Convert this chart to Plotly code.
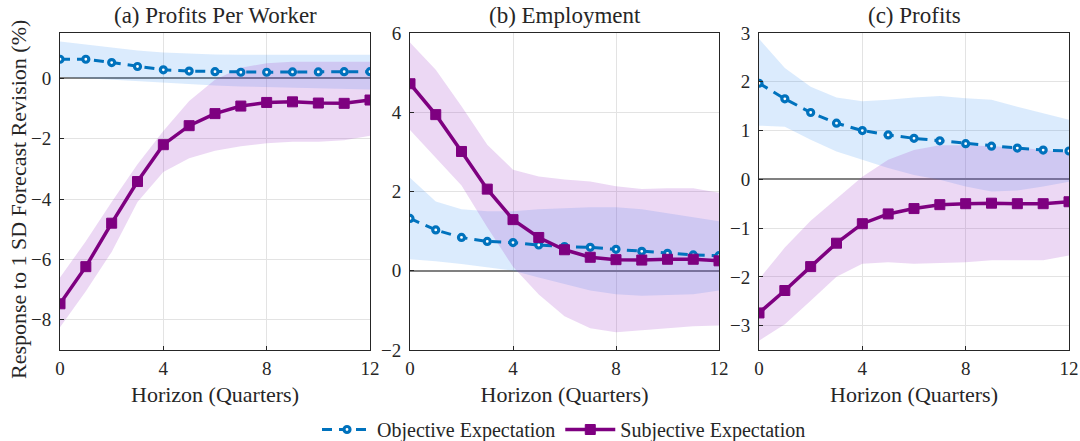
import plotly.graph_objects as go

horizon = list(range(13))

# Panel (a) Profits Per Worker
a_obj = [0.63, 0.63, 0.52, 0.39, 0.28, 0.24, 0.22, 0.20, 0.20, 0.21, 0.21, 0.22, 0.22]
a_obj_hi = [1.22, 1.12, 1.02, 0.92, 0.85, 0.81, 0.79, 0.78, 0.78, 0.78, 0.78, 0.78, 0.78]
a_obj_lo = [0.05, 0.0, -0.05, -0.10, -0.15, -0.20, -0.24, -0.27, -0.29, -0.31, -0.33, -0.35, -0.37]
a_sub = [-7.47, -6.24, -4.80, -3.42, -2.20, -1.57, -1.17, -0.92, -0.80, -0.78, -0.82, -0.83, -0.72]
a_sub_hi = [-6.6, -5.4, -4.1, -2.85, -1.75, -0.75, -0.05, 0.35, 0.5, 0.55, 0.55, 0.55, 0.55]
a_sub_lo = [-8.25, -7.05, -5.75, -4.1, -3.1, -2.65, -2.4, -2.25, -2.15, -2.1, -2.1, -2.05, -1.9]

# Panel (b) Employment
b_obj = [1.32, 1.03, 0.84, 0.74, 0.71, 0.65, 0.61, 0.59, 0.54, 0.49, 0.44, 0.40, 0.38]
b_obj_hi = [2.35, 1.75, 1.55, 1.50, 1.50, 1.55, 1.58, 1.60, 1.60, 1.55, 1.45, 1.35, 1.25]
b_obj_lo = [0.29, 0.24, 0.17, 0.08, 0.0, -0.17, -0.34, -0.50, -0.59, -0.63, -0.61, -0.59, -0.50]
b_sub = [4.72, 3.94, 3.01, 2.06, 1.29, 0.84, 0.53, 0.34, 0.28, 0.27, 0.29, 0.29, 0.25]
b_sub_hi = [5.76, 5.07, 4.15, 3.18, 2.55, 2.38, 2.30, 2.25, 2.13, 2.06, 2.08, 2.08, 1.97]
b_sub_lo = [3.55, 2.85, 2.15, 1.10, 0.10, -0.60, -1.15, -1.45, -1.55, -1.50, -1.45, -1.40, -1.38]

# Panel (c) Profits
c_obj = [1.97, 1.65, 1.37, 1.15, 1.00, 0.91, 0.84, 0.79, 0.73, 0.68, 0.64, 0.60, 0.58]
c_obj_hi = [2.88, 2.28, 1.90, 1.68, 1.60, 1.63, 1.68, 1.71, 1.66, 1.63, 1.49, 1.36, 1.22]
c_obj_lo = [1.10, 1.08, 0.81, 0.57, 0.40, 0.23, 0.09, -0.01, -0.15, -0.25, -0.23, -0.15, -0.05]
c_sub = [-2.74, -2.28, -1.79, -1.31, -0.91, -0.71, -0.60, -0.52, -0.50, -0.49, -0.50, -0.50, -0.46]
c_sub_hi = [-2.05, -1.4, -0.85, -0.4, 0.05, 0.4, 0.6, 0.7, 0.7, 0.68, 0.65, 0.6, 0.55]
c_sub_lo = [-3.31, -2.97, -2.49, -2.0, -1.73, -1.7, -1.73, -1.72, -1.7, -1.66, -1.66, -1.66, -1.56]

panel_titles = ["(a) Profits Per Worker", "(b) Employment", "(c) Profits"]
y_ranges = [[-9, 1.5], [-2, 6], [-3.5, 3]]
y_ticks = [[-8, -6, -4, -2, 0], [-2, 0, 2, 4, 6], [-3, -2, -1, 0, 1, 2, 3]]
x_ticks = [0, 4, 8, 12]
series_names = ["Objective Expectation", "Subjective Expectation"]
x_title = "Horizon (Quarters)"
y_title = "Response to 1 SD Forecast Revision (%)"

panels = [
    (a_obj, a_obj_hi, a_obj_lo, a_sub, a_sub_hi, a_sub_lo),
    (b_obj, b_obj_hi, b_obj_lo, b_sub, b_sub_hi, b_sub_lo),
    (c_obj, c_obj_hi, c_obj_lo, c_sub, c_sub_hi, c_sub_lo),
]

BLUE = "#0072BD"
PURPLE = "#7E0080"
BLUE_FILL = "rgba(30,130,240,0.16)"
PURPLE_FILL = "rgba(160,60,200,0.20)"
FONT = "'Liberation Serif', 'DejaVu Serif', serif"
TXT = "#262626"

W, H = 1080, 441
x_doms = [(60 / W, 370 / W), (410 / W, 719 / W), (759 / W, 1069 / W)]
y_dom = (1 - 350 / H, 1 - 33 / H)

fig = go.Figure()

for i, (o, ohi, olo, s, shi, slo) in enumerate(panels):
    xa = "x" if i == 0 else f"x{i+1}"
    ya = "y" if i == 0 else f"y{i+1}"
    fig.add_trace(go.Scatter(x=horizon, y=ohi, mode="lines", line=dict(width=0),
                             showlegend=False, hoverinfo="skip", xaxis=xa, yaxis=ya))
    fig.add_trace(go.Scatter(x=horizon, y=olo, mode="lines", line=dict(width=0),
                             fill="tonexty", fillcolor=BLUE_FILL,
                             showlegend=False, hoverinfo="skip", xaxis=xa, yaxis=ya))
    fig.add_trace(go.Scatter(x=horizon, y=shi, mode="lines", line=dict(width=0),
                             showlegend=False, hoverinfo="skip", xaxis=xa, yaxis=ya))
    fig.add_trace(go.Scatter(x=horizon, y=slo, mode="lines", line=dict(width=0),
                             fill="tonexty", fillcolor=PURPLE_FILL,
                             showlegend=False, hoverinfo="skip", xaxis=xa, yaxis=ya))
    fig.add_trace(go.Scatter(x=horizon, y=o, mode="lines+markers", name=series_names[0],
                             line=dict(color=BLUE, width=3, dash="10px,7px"),
                             marker=dict(symbol="circle", size=6, color="white",
                                         line=dict(color=BLUE, width=3.2)),
                             showlegend=(i == 0), legendgroup="obj", xaxis=xa, yaxis=ya))
    fig.add_trace(go.Scatter(x=horizon, y=s, mode="lines+markers", name=series_names[1],
                             line=dict(color=PURPLE, width=3.5),
                             marker=dict(symbol="square", size=10, color=PURPLE,
                                         line=dict(color=PURPLE, width=1)),
                             showlegend=(i == 0), legendgroup="sub", xaxis=xa, yaxis=ya))

layout = dict(
    width=W, height=H,
    margin=dict(l=0, r=0, t=0, b=0, autoexpand=False),
    plot_bgcolor="white", paper_bgcolor="white",
    font=dict(family=FONT, size=16, color=TXT),
    showlegend=True,
    legend=dict(orientation="h", x=564 / W, xanchor="center", y=-8 / H, yanchor="bottom",
                font=dict(family=FONT, size=20, color=TXT),
                itemwidth=50, tracegroupgap=0, bgcolor="rgba(0,0,0,0)"),
)

annotations = []
for i in range(3):
    sfx = "" if i == 0 else str(i + 1)
    layout["xaxis" + sfx] = dict(
        domain=list(x_doms[i]), range=[0, 12], tickvals=x_ticks, anchor="y" + sfx,
        showgrid=True, gridcolor="#e3e3e3", gridwidth=1,
        showline=True, linecolor=TXT, linewidth=1, mirror=True,
        ticks="inside", ticklen=4, tickcolor=TXT, zeroline=False,
        tickfont=dict(size=19, family=FONT, color=TXT), ticklabelstandoff=1,
        title=dict(text=x_title, font=dict(size=22, family=FONT, color=TXT), standoff=8),
        automargin=False, fixedrange=True,
    )
    layout["yaxis" + sfx] = dict(
        domain=list(y_dom), range=y_ranges[i], tickvals=y_ticks[i], anchor="x" + sfx,
        showgrid=True, gridcolor="#e3e3e3", gridwidth=1,
        showline=True, linecolor=TXT, linewidth=1, mirror=True,
        ticks="inside", ticklen=4, tickcolor=TXT,
        zeroline=True, zerolinecolor="#808080", zerolinewidth=1.5,
        tickfont=dict(size=19, family=FONT, color=TXT), ticklabelstandoff=4,
        automargin=False, fixedrange=True,
    )
    annotations.append(dict(
        text=panel_titles[i], x=(x_doms[i][0] + x_doms[i][1]) / 2, y=1 - 16 / H,
        xref="paper", yref="paper", xanchor="center", yanchor="middle", showarrow=False,
        font=dict(size=23, family=FONT, color=TXT),
    ))

annotations.append(dict(
    text=y_title, x=18 / W, y=1 - 200 / H, xref="paper", yref="paper",
    xanchor="center", yanchor="middle", textangle=-90, showarrow=False,
    font=dict(size=22, family=FONT, color=TXT),
))
layout["annotations"] = annotations

fig.update_layout(**layout)
fig.write_html("out.html", config={"displayModeBar": False},
               post_script="document.body.style.margin='0';document.body.style.overflow='hidden';")
